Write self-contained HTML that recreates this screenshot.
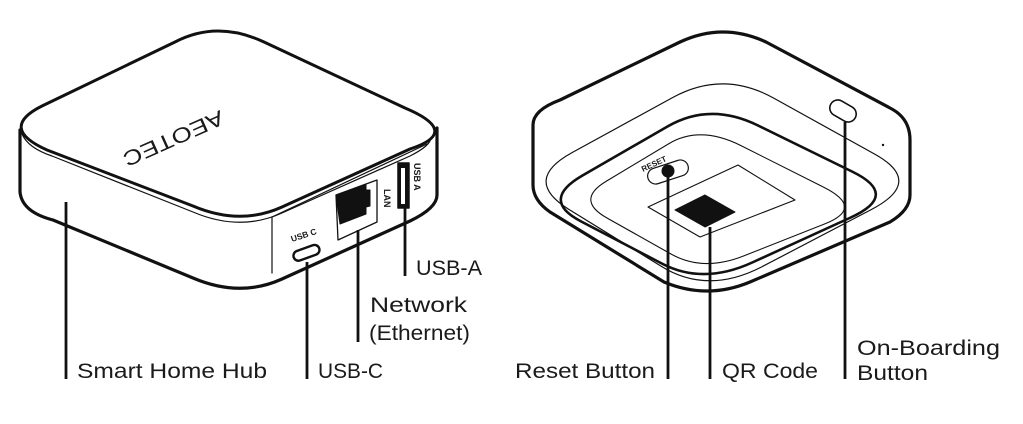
<!DOCTYPE html>
<html><head><meta charset="utf-8"><style>
html,body{margin:0;padding:0;background:#fff;width:1023px;height:424px;overflow:hidden}
svg{display:block}
text{font-family:"Liberation Sans",sans-serif;fill:#1a1a1a}
</style></head><body>
<svg width="1023" height="424" viewBox="0 0 1023 424" xmlns="http://www.w3.org/2000/svg">
<g fill="none" stroke="#111" stroke-linejoin="round" stroke-linecap="round">
<!-- LEFT DEVICE -->
<path d="M264,42 L405,108 Q462,132 410,149 L282,207 Q240,226 193,206 L47,150 Q-2,128 42,106 L175,42 Q217,20 264,42 Z" stroke-width="3"/>
<path d="M20,130 L20,192 Q22,212 53,220 L193,278 Q240,298 282,279 L410,221 Q437,208 437,195 L437,128" stroke-width="3.2"/>
<path d="M22,134 Q28,148 52,156 L193,212 Q240,232 282,213 L410,156 Q430,146 431,138" stroke-width="1.2"/>
<path d="M272,217 L272,273 M272,217 L427,144" stroke-width="1.2"/>
<!-- LAN -->
<path d="M336,195 L377,180 L377,222 L338,240 Z" stroke-width="1.3"/>
<path d="M336,196 L366,184 L366,190 L370,190 L370,206 L366,207 L366,214 L340,224 Z" fill="#111" stroke-width="1"/>
<!-- USB A -->
<rect x="398" y="163" width="11" height="45" fill="#111" stroke-width="1.5"/>
<rect x="401" y="168" width="4" height="36" fill="#fff" stroke="none"/>
<!-- USB C -->
<g transform="rotate(-20 306 253)"><rect x="293" y="248" width="27" height="10" rx="5" stroke-width="2.4"/></g>
<!-- leaders left -->
<g stroke-width="2.8" stroke-linecap="butt">
<line x1="66" y1="202" x2="66" y2="379"/>
<line x1="307" y1="262" x2="307" y2="379"/>
<line x1="358" y1="230" x2="358" y2="342"/>
<line x1="405" y1="207" x2="405" y2="276"/>
</g>
<!-- RIGHT DEVICE -->
<path d="M533,150 L533,125 Q533,110 560,100 L680,42 Q723,22 766,42 L890,108 Q910,118 910,140 L910,195 Q910,210 890,222 L750,282 Q707,300 664,282 L550,212 Q533,200 533,185 Z" stroke-width="3.2"/>
<path d="M773.5,98 L874.5,154 Q925,182 870.5,210 L761.5,267 Q707,295 660.75,266 L568.25,209 Q522,180 572.25,152.5 L672.75,97.5 Q723,70 773.5,98 Z" stroke-width="1.2"/>
<path d="M757.5,125.25 L852.5,171.75 Q900,195 850.75,217.5 L752.25,262.5 Q703,285 662.25,263.75 L580.75,221.25 Q540,200 582.5,175.5 L667.5,126.5 Q710,102 757.5,125.25 Z" stroke-width="2.6"/>
<path d="M741.25,145.75 L823.75,187.25 Q865,208 824.5,224 L743.5,256 Q703,272 671,254 L607,218 Q575,200 606.25,181.25 L668.75,143.75 Q700,125 741.25,145.75 Z" stroke-width="1.1"/>
<path d="M648,207 L738,165 L795,200 L700,237 Z" stroke-width="1.1"/>
<path d="M675,210 L705,195 L735,212 L705,227 Z" fill="#111" stroke-width="1"/>
<g transform="rotate(-18 668 172)"><rect x="647" y="164" width="42" height="16" rx="8" stroke-width="1.2"/></g>
<circle cx="668" cy="171" r="6.5" fill="#111" stroke="none"/>
<g transform="rotate(30 843 111)"><rect x="829" y="103" width="28" height="16" rx="8" stroke-width="1.6"/></g>
<circle cx="883" cy="145" r="1.2" fill="#111" stroke="none"/>
<g stroke-width="2.8" stroke-linecap="butt">
<line x1="668" y1="172" x2="668" y2="379"/>
<line x1="710" y1="227" x2="710" y2="379"/>
<line x1="845" y1="122" x2="845" y2="379"/>
</g>
</g>
<!-- small device texts -->
<text x="0" y="0" font-size="21" transform="translate(220,110) rotate(156)" textLength="108" lengthAdjust="spacingAndGlyphs">AEOTEC</text>
<text x="0" y="0" font-size="8.5" font-weight="bold" transform="translate(292,242) rotate(-18)">USB C</text>
<text x="0" y="0" font-size="9" font-weight="bold" transform="translate(384,189) rotate(90)">LAN</text>
<text x="0" y="0" font-size="9" font-weight="bold" transform="translate(414,163) rotate(90)">USB A</text>
<text x="0" y="0" font-size="8" font-weight="bold" transform="translate(643,172) rotate(-25)">RESET</text>
<!-- labels -->
<g font-size="21">
<text x="77" y="378" textLength="190" lengthAdjust="spacingAndGlyphs">Smart Home Hub</text>
<text x="318" y="378" textLength="65" lengthAdjust="spacingAndGlyphs">USB-C</text>
<text x="370" y="312" textLength="97" lengthAdjust="spacingAndGlyphs">Network</text>
<text x="369" y="340" textLength="101" lengthAdjust="spacingAndGlyphs">(Ethernet)</text>
<text x="416" y="275" textLength="66" lengthAdjust="spacingAndGlyphs">USB-A</text>
<text x="515" y="378" textLength="140" lengthAdjust="spacingAndGlyphs">Reset Button</text>
<text x="722" y="378" textLength="96" lengthAdjust="spacingAndGlyphs">QR Code</text>
<text x="857" y="355" textLength="143" lengthAdjust="spacingAndGlyphs">On-Boarding</text>
<text x="857" y="380" textLength="71" lengthAdjust="spacingAndGlyphs">Button</text>
</g>
</svg>
</body></html>
